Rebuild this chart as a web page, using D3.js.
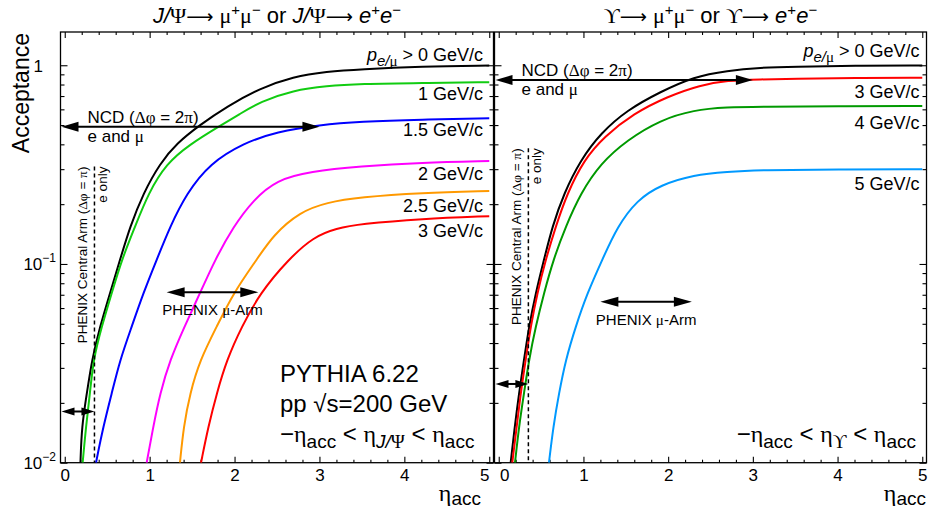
<!DOCTYPE html>
<html><head><meta charset="utf-8">
<script src="https://cdn.jsdelivr.net/npm/d3@7"></script>
<style>
body{margin:0;background:#fff}
svg{display:block}
text{font-family:"Liberation Sans",Arial,Helvetica,sans-serif;fill:#000}
</style></head><body>
<svg id="c" width="928" height="512"></svg>
<script>
// ---------------- data (eta_acc, acceptance) ----------------
const jpsiP0  = [[0.185,0.010],[0.20,0.0152],[0.26,0.0223],[0.32,0.0329],[0.415,0.0484],[0.533,0.0713],[0.651,0.105],[0.769,0.154],[0.925,0.227],[1.122,0.321],[1.319,0.405],[1.593,0.501],[1.908,0.619],[2.30,0.766],[2.69,0.877],[3.085,0.929],[3.48,0.955],[4.2,0.985],[5.0,0.997]];
const jpsiP1  = [[0.211,0.010],[0.25,0.0152],[0.297,0.0223],[0.336,0.0329],[0.435,0.0484],[0.553,0.0713],[0.671,0.105],[0.828,0.154],[0.984,0.227],[1.20,0.321],[1.467,0.398],[1.809,0.490],[2.064,0.569],[2.30,0.655],[2.692,0.748],[3.085,0.787],[3.478,0.805],[4.2,0.815],[5.0,0.822]];
const jpsiP15 = [[0.368,0.010],[0.454,0.0152],[0.553,0.0223],[0.651,0.0329],[0.789,0.0484],[0.925,0.0713],[1.083,0.105],[1.24,0.154],[1.436,0.227],[1.711,0.321],[2.103,0.405],[2.496,0.463],[3.006,0.501],[3.478,0.520],[4.2,0.533],[5.0,0.541]];
const jpsiP2  = [[0.965,0.010],[1.043,0.0152],[1.122,0.0223],[1.24,0.0329],[1.41,0.0484],[1.593,0.0713],[1.77,0.105],[1.985,0.154],[2.221,0.210],[2.496,0.265],[2.889,0.292],[3.478,0.310],[4.2,0.324],[5.0,0.330]];
const jpsiP25 = [[1.357,0.010],[1.40,0.0152],[1.475,0.0223],[1.593,0.0329],[1.79,0.0484],[1.985,0.0713],[2.26,0.105],[2.456,0.140],[2.771,0.183],[3.085,0.204],[3.478,0.217],[4.2,0.228],[5.0,0.233]];
const jpsiP3  = [[1.605,0.010],[1.691,0.0152],[1.79,0.0223],[1.908,0.0329],[2.084,0.0484],[2.30,0.0713],[2.63,0.105],[2.93,0.137],[3.2,0.151],[3.48,0.159],[4.2,0.169],[5.0,0.174]];

const upsP0 = [[0.141,0.010],[0.189,0.0152],[0.239,0.0223],[0.298,0.0329],[0.357,0.0484],[0.436,0.0713],[0.534,0.105],[0.632,0.154],[0.770,0.227],[0.967,0.334],[1.203,0.455],[1.517,0.596],[1.910,0.736],[2.303,0.876],[2.696,0.939],[3.09,0.973],[3.48,0.984],[4.2,0.994],[5.0,0.998]];
const upsP3 = [[0.160,0.010],[0.212,0.0152],[0.259,0.0223],[0.318,0.0329],[0.377,0.0484],[0.455,0.0713],[0.554,0.105],[0.672,0.154],[0.809,0.227],[1.006,0.334],[1.242,0.437],[1.596,0.573],[1.988,0.695],[2.382,0.796],[2.696,0.837],[3.09,0.850],[3.48,0.855],[4.2,0.862],[5.0,0.866]];
const upsP4 = [[0.192,0.010],[0.239,0.0152],[0.298,0.0223],[0.357,0.0329],[0.436,0.0484],[0.534,0.0713],[0.644,0.105],[0.79,0.154],[0.967,0.227],[1.203,0.321],[1.517,0.421],[1.910,0.531],[2.303,0.596],[2.696,0.615],[3.09,0.619],[4.0,0.622],[5.0,0.624]];
const upsP5 = [[0.593,0.010],[0.644,0.0152],[0.711,0.0223],[0.79,0.0329],[0.908,0.0484],[1.045,0.0713],[1.222,0.105],[1.399,0.154],[1.634,0.210],[1.910,0.250],[2.303,0.281],[2.696,0.291],[3.09,0.297],[4.0,0.299],[5.0,0.300]];

const jpsiLabels = ["p", "1 GeV/c", "1.5 GeV/c", "2 GeV/c", "2.5 GeV/c", "3 GeV/c"];
const upsLabels  = ["p", "3 GeV/c", "4 GeV/c", "5 GeV/c"];
const xTickLabels = ["0","1","2","3","4","5"];
const xTicks = [0,1,2,3,4,5];
const yTicks = [0.01,0.1,1];
const yTickExp = {0.01:"−2", 0.1:"−1"};

// detector coverage (eta)
const ncdEta = [-0.05, 3.0];
const centralEta = 0.35;
const muonEta = [1.2, 2.28];

// ---------------- layout ----------------
const svg = d3.select('#c');
const yTop = 32, yBot = 462.7;
const y = d3.scaleLog().domain([0.01, 1.47]).range([yBot, yTop]);
const xL = d3.scaleLinear().domain([-0.05, 5.05]).range([60.5, 493.5]);
const xR = d3.scaleLinear().domain([-0.05, 5.05]).range([494.5, 926.5]);
const SERIF = '"Liberation Serif","DejaVu Serif",serif';
const ARROWF = '"DejaVu Sans",sans-serif';

function rich(sel, parts){
  let cur = 0;
  parts.forEach(p => {
    const sh = p.shift || 0;
    const ts = sel.append('tspan').text(p.t);
    if (sh !== cur) { ts.attr('dy', sh - cur); cur = sh; }
    if (p.serif) ts.style('font-family', SERIF);
    if (p.font) ts.style('font-family', p.font);
    if (p.it) ts.style('font-style', 'italic');
    if (p.size) ts.attr('font-size', p.size);
  });
  return sel;
}

function arrowH(g, x1, x2, yy, len, half, lw){
  g.append('line').attr('x1', x1 + len*0.6).attr('x2', x2 - len*0.6).attr('y1', yy).attr('y2', yy)
    .attr('stroke', '#000').attr('stroke-width', lw);
  g.append('path').attr('d', `M${x1},${yy}L${x1+len},${yy-half}L${x1+len},${yy+half}Z`).attr('fill', '#000');
  g.append('path').attr('d', `M${x2},${yy}L${x2-len},${yy-half}L${x2-len},${yy+half}Z`).attr('fill', '#000');
}

function panel(x, id, curves, showYLabels){
  const [x0, x1] = x.range();
  const g = svg.append('g');
  svg.append('clipPath').attr('id', id).append('rect')
    .attr('x', x0).attr('y', yTop).attr('width', x1 - x0).attr('height', yBot - yTop);

  const minorX = d3.range(0, 5.01, 0.2).filter(v => Math.abs(v - Math.round(v)) > 1e-6);
  const minorY = [];
  [0.01, 0.1].forEach(b => { for (let k = 2; k <= 9; k++) minorY.push(b * k); });

  const bot = g.append('g').attr('transform', `translate(0,${yBot})`)
    .call(d3.axisBottom(x).tickValues(xTicks).tickSizeInner(-6).tickSizeOuter(0).tickPadding(6.5)
      .tickFormat((d, i) => xTickLabels[i]));
  bot.call(s => s.select('.domain').remove());
  bot.selectAll('text').attr('font-size', 17).attr('font-family', '"Liberation Sans",Arial,sans-serif');
  g.append('g').attr('transform', `translate(0,${yBot})`)
    .call(d3.axisBottom(x).tickValues(minorX).tickSizeInner(-3).tickSizeOuter(0).tickFormat(''))
    .call(s => s.select('.domain').remove());
  g.append('g').attr('transform', `translate(0,${yTop})`)
    .call(d3.axisTop(x).tickValues(xTicks).tickSizeInner(-6).tickSizeOuter(0).tickFormat(''))
    .call(s => s.select('.domain').remove());
  g.append('g').attr('transform', `translate(0,${yTop})`)
    .call(d3.axisTop(x).tickValues(minorX).tickSizeInner(-3).tickSizeOuter(0).tickFormat(''))
    .call(s => s.select('.domain').remove());

  const left = g.append('g').attr('transform', `translate(${x0},0)`)
    .call(d3.axisLeft(y).tickValues(yTicks).tickSizeInner(-7).tickSizeOuter(0).tickPadding(4).tickFormat(''))
    .call(s => s.select('.domain').remove());
  g.append('g').attr('transform', `translate(${x0},0)`)
    .call(d3.axisLeft(y).tickValues(minorY).tickSizeInner(-4).tickSizeOuter(0).tickFormat(''))
    .call(s => s.select('.domain').remove());
  g.append('g').attr('transform', `translate(${x1},0)`)
    .call(d3.axisRight(y).tickValues(yTicks).tickSizeInner(-7).tickSizeOuter(0).tickFormat(''))
    .call(s => s.select('.domain').remove());
  g.append('g').attr('transform', `translate(${x1},0)`)
    .call(d3.axisRight(y).tickValues(minorY).tickSizeInner(-4).tickSizeOuter(0).tickFormat(''))
    .call(s => s.select('.domain').remove());
  g.selectAll('.tick line').attr('stroke', '#000').attr('stroke-width', 1.1);

  if (showYLabels) {
    left.selectAll('.tick').each(function(d){
      const t = d3.select(this).append('text').attr('fill', '#000').attr('font-size', 17)
        .attr('text-anchor', 'end').attr('dy', '0.35em');
      if (d === 1) { t.attr('x', 43 - x0).text('1'); }
      else {
        t.attr('x', 56 - x0);
        t.append('tspan').text('10');
        t.append('tspan').attr('font-size', 12).attr('dy', -8).text(yTickExp[d]);
      }
    });
  }

  g.append('rect').attr('x', x0).attr('y', yTop).attr('width', x1 - x0).attr('height', yBot - yTop)
    .attr('fill', 'none').attr('stroke', '#000').attr('stroke-width', 1.3);

  const line = d3.line().x(d => x(d[0])).y(d => y(d[1])).curve(d3.curveBasis);
  const cg = g.append('g').attr('clip-path', `url(#${id})`);
  curves.forEach(c => {
    cg.append('path').attr('d', line(c.data)).attr('fill', 'none')
      .attr('stroke', c.color).attr('stroke-width', 2);
  });
  return {g, bot};
}

// ---------------- left panel ----------------
const jpsiColors = ['#000000', '#11cc11', '#0000ff', '#ff00ff', '#ff9900', '#ff0000'];
const jpsiData = [jpsiP0, jpsiP1, jpsiP15, jpsiP2, jpsiP25, jpsiP3];
const L = panel(xL, 'clipL', jpsiData.map((d, i) => ({data: d, color: jpsiColors[i]})), true);
L.bot.selectAll('.tick').filter(d => d === 5).select('text').attr('x', -5);

// ---------------- right panel ----------------
const upsColors = ['#000000', '#ff0000', '#009900', '#0099ff'];
const upsData = [upsP0, upsP3, upsP4, upsP5];
const R = panel(xR, 'clipR', upsData.map((d, i) => ({data: d, color: upsColors[i]})), false);
R.bot.selectAll('.tick').filter(d => d === 0).select('text').attr('x', 5.5);

// ---------------- titles ----------------
rich(svg.append('text').attr('x', 277).attr('y', 23).attr('text-anchor', 'middle').attr('font-size', 22), [
  {t:'J/', it:true}, {t:'Ψ', serif:true}, {t:'⟶ ', font:ARROWF, size:19}, {t:'μ', serif:true},
  {t:'+', size:15, shift:-8}, {t:'μ', serif:true}, {t:'−', size:15, shift:-8}, {t:' or '},
  {t:'J/', it:true}, {t:'Ψ', serif:true}, {t:'⟶ ', font:ARROWF, size:19}, {t:'e', it:true},
  {t:'+', size:15, shift:-8}, {t:'e', it:true}, {t:'−', size:15, shift:-8}
]);
rich(svg.append('text').attr('x', 710.5).attr('y', 23).attr('text-anchor', 'middle').attr('font-size', 22), [
  {t:'ϒ', serif:true}, {t:'⟶ ', font:ARROWF, size:19}, {t:'μ', serif:true},
  {t:'+', size:15, shift:-8}, {t:'μ', serif:true}, {t:'−', size:15, shift:-8}, {t:' or '},
  {t:'ϒ', serif:true}, {t:'⟶ ', font:ARROWF, size:19}, {t:'e', it:true},
  {t:'+', size:15, shift:-8}, {t:'e', it:true}, {t:'−', size:15, shift:-8}
]);

// y title
svg.append('text').attr('transform', 'translate(29,33) rotate(-90)').attr('text-anchor', 'end')
  .attr('font-size', 23).text('Acceptance');

// x titles
[481, 926].forEach(xe => {
  rich(svg.append('text').attr('x', xe).attr('y', 501).attr('text-anchor', 'end').attr('font-size', 24), [
    {t:'η', serif:true}, {t:'acc', size:19, shift:4}
  ]);
});

// ---------------- curve labels ----------------
function curveLabel(xe, yb, txt, color){
  const t = svg.append('text').attr('x', xe).attr('y', yb).attr('text-anchor', 'end')
    .attr('font-size', 18).attr('fill', color);
  if (txt === 'p') {
    rich(t, [{t:'p', it:true}, {t:'e/', it:true, size:15, shift:5}, {t:'μ', serif:true, size:15, shift:5},
             {t:' > 0 GeV/c', shift:0}]);
  } else t.text(txt);
}
const jpsiLabelY = [61, 100, 136, 180, 211.7, 236.7];
jpsiLabels.forEach((s, i) => curveLabel(483, jpsiLabelY[i], s, jpsiColors[i]));
const upsLabelY = [57, 98, 128.5, 190];
upsLabels.forEach((s, i) => curveLabel(919.5, upsLabelY[i], s, upsColors[i]));

// ---------------- annotations ----------------
function annotations(x, ncdA, smallA, muA, dashTopA){
  const ag = svg.append('g');
  arrowH(ag, x(ncdEta[0]) + 1, x(ncdEta[1]), y(ncdA), 17, 5, 2);
  rich(ag.append('text').attr('x', x(ncdEta[0]) + 27).attr('y', y(ncdA) - 3.7).attr('font-size', 17),
    [{t:'NCD ('}, {t:'Δφ', serif:true}, {t:' = 2'}, {t:'π', serif:true}, {t:')'}]);
  rich(ag.append('text').attr('x', x(ncdEta[0]) + 27).attr('y', y(ncdA) + 15).attr('font-size', 17),
    [{t:'e and '}, {t:'μ', serif:true}]);
  ag.append('line').attr('x1', x(centralEta)).attr('x2', x(centralEta))
    .attr('y1', y(dashTopA)).attr('y2', yBot).attr('stroke', '#000').attr('stroke-width', 1.5)
    .attr('stroke-dasharray', '4,3');
  arrowH(ag, x(-0.05) + 1, x(centralEta), y(smallA), 13, 4, 2);
  const xd = x(centralEta), yt = y(dashTopA);
  rich(ag.append('text').attr('transform', `translate(${xd - 7.8},${yt}) rotate(-90)`)
    .attr('text-anchor', 'end').attr('font-size', 13.5),
    [{t:'PHENIX Central Arm ('}, {t:'Δφ', serif:true}, {t:' = '}, {t:'π', serif:true}, {t:')'}]);
  ag.append('text').attr('transform', `translate(${xd + 12.5},${yt}) rotate(-90)`)
    .attr('text-anchor', 'end').attr('font-size', 13.5).text('e only');
  arrowH(ag, x(muonEta[0]), x(muonEta[1]), y(muA), 18, 5, 2);
  rich(ag.append('text').attr('x', (x(muonEta[0]) + x(muonEta[1])) / 2).attr('y', y(muA) + 23)
    .attr('text-anchor', 'middle').attr('font-size', 15),
    [{t:'PHENIX '}, {t:'μ', serif:true}, {t:'-Arm'}]);
}
annotations(xL, 0.491, 0.0181, 0.0721, 0.309);
annotations(xR, 0.843, 0.0249, 0.0646, 0.382);

// ---------------- PYTHIA text ----------------
svg.append('text').attr('x', 280).attr('y', 381.7).attr('font-size', 24).text('PYTHIA 6.22');
svg.append('text').attr('x', 280).attr('y', 411.7).attr('font-size', 24).text('pp √s=200 GeV');
rich(svg.append('text').attr('x', 280).attr('y', 442).attr('font-size', 24), [
  {t:'−'}, {t:'η', serif:true}, {t:'acc', size:19, shift:6}, {t:' < ', shift:0}, {t:'η', serif:true},
  {t:'J/', it:true, size:19, shift:6}, {t:'Ψ', serif:true, size:19, shift:6}, {t:' < ', shift:0},
  {t:'η', serif:true}, {t:'acc', size:19, shift:6}
]);
rich(svg.append('text').attr('x', 916).attr('y', 442).attr('text-anchor', 'end').attr('font-size', 24), [
  {t:'−'}, {t:'η', serif:true}, {t:'acc', size:19, shift:6}, {t:' < ', shift:0}, {t:'η', serif:true},
  {t:'ϒ', serif:true, size:19, shift:6}, {t:' < ', shift:0},
  {t:'η', serif:true}, {t:'acc', size:19, shift:6}
]);
</script>
</body></html>
